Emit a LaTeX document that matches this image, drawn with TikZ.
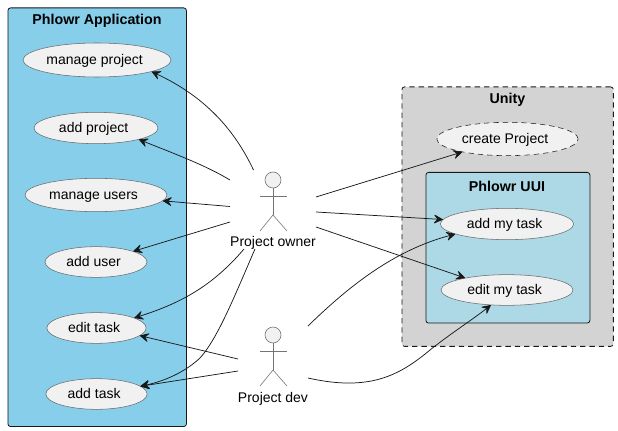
\documentclass[tikz,border=0pt]{standalone}
\usepackage{fontspec}
\setmainfont{Liberation Sans}
\usetikzlibrary{arrows.meta,shapes.geometric}
\definecolor{ink}{HTML}{181818}
\definecolor{ucfill}{HTML}{F1F1F1}
\definecolor{appblue}{HTML}{87CEEB}
\definecolor{uuiblue}{HTML}{ADD8E6}
\definecolor{unitygray}{HTML}{D3D3D3}
\newcommand{\uctext}[1]{\smash{\raisebox{-3.6pt}{#1}}\kern3.6pt}
\tikzset{
  pkg/.style={draw=ink,line width=0.6pt,rounded corners=2pt,anchor=north west,inner sep=0pt},
  pkgtitle/.style={font=\fontsize{10.7}{12}\selectfont\bfseries,text=black,inner sep=0pt},
  uc/.style={ellipse,draw=ink!65,line width=0.4pt,fill=ucfill,inner sep=0pt,font=\fontsize{10.5}{12}\selectfont,text=black},
  actorline/.style={draw=ink!60,line width=0.45pt},
  actorhead/.style={circle,draw=ink!60,line width=0.45pt,fill=ucfill,minimum size=12pt,inner sep=0pt},
  actorname/.style={font=\fontsize{10.5}{12}\selectfont,text=black,inner sep=0pt},
  rel/.style={draw=ink,line width=0.55pt,-{Stealth[length=7.5pt,width=7.5pt,inset=3pt,round]}},
  dashy/.style={dash pattern=on 4pt off 3pt}
}
\begin{document}
\begin{tikzpicture}[x=0.75pt,y=-0.75pt]
\useasboundingbox (0,0) rectangle (618,431);
% packages
\node[pkg,fill=appblue,minimum width=133.9pt,minimum height=314pt] (app) at (7.5,7.5) {};
\node[pkgtitle] (appT) at (97,20.5) {Phlowr Application};
\node[pkg,fill=unitygray,dashy,minimum width=158.6pt,minimum height=194.6pt] (unity) at (401.5,86.5) {};
\node[pkgtitle] (unityT) at (507.5,99.5) {Unity};
\node[pkg,fill=uuiblue,minimum width=123pt,minimum height=113pt] (uui) at (425.5,172) {};
\node[pkgtitle] (uuiT) at (507,186.5) {Phlowr UUI};
% use cases
\node[uc,minimum width=111pt,minimum height=25.5pt] (mp) at (97,60) {\uctext{manage project}};
\node[uc,minimum width=93pt,minimum height=23.5pt] (ap) at (96,128) {\uctext{add project}};
\node[uc,minimum width=106.5pt,minimum height=25pt] (mu) at (96,195) {\uctext{manage users}};
\node[uc,minimum width=76.5pt,minimum height=23pt] (au) at (96,262) {\uctext{add user}};
\node[uc,minimum width=74.5pt,minimum height=23pt] (et) at (96.5,328) {\uctext{edit task}};
\node[uc,minimum width=76pt,minimum height=23pt] (at) at (96.5,394) {\uctext{add task}};
\node[uc,dashy,draw=ink,minimum width=106pt,minimum height=25pt] (cp) at (507.5,139) {\uctext{create Project}};
\node[uc,minimum width=100pt,minimum height=23.5pt] (amt) at (507,224) {\uctext{add my task}};
\node[uc,minimum width=99pt,minimum height=23pt] (emt) at (507,290) {\uctext{edit my task}};
% actors
\node[actorhead] (ownerH) at (273,180) {};
\draw[actorline] (ownerH.south) -- (273,215) coordinate (ownerHip);
\draw[actorline] (260,196) -- (287,196);
\draw[actorline] (260,231) -- (ownerHip) -- (287,231);
\node[actorname] (owner) at (273,242.5) {Project owner};
\node[actorhead] (devH) at (273,335) {};
\draw[actorline] (devH.south) -- (273,370) coordinate (devHip);
\draw[actorline] (260,351) -- (287,351);
\draw[actorline] (260,386) -- (devHip) -- (287,386);
\node[actorname] (dev) at (273,398.5) {Project dev};
% connector start points
\coordinate (o1) at (253.5,170);
\coordinate (o2) at (230,180);
\coordinate (o3) at (230,206.5);
\coordinate (o4) at (230,222);
\coordinate (o5) at (244,249);
\coordinate (o6) at (255,249);
\coordinate (o7) at (316,197);
\coordinate (o8) at (316,212);
\coordinate (o9) at (316,227);
\coordinate (d1) at (238,359);
\coordinate (d2) at (238,371);
\coordinate (d3) at (308,326);
\coordinate (d4) at (308,378);
% connectors
\draw[rel] (o1) .. controls (230,120) and (195,92) .. (mp.-12.8);
\draw[rel] (o2) .. controls (205,165) and (175,154) .. (ap.-15.6);
\draw[rel] (o3) -- (mu.-5.1);
\draw[rel] (o4) -- (au.16.6);
\draw[rel] (o5) .. controls (215,283) and (185,302) .. (et.15.2);
\draw[rel] (o6) .. controls (235,295) and (218,338) .. (200,358) .. controls (185,372) and (165,381) .. (at.10.2);
\draw[rel] (d1) -- (et.-10.9);
\draw[rel] (d2) -- (at.10.2);
\draw[rel] (o7) -- (cp.196.3);
\draw[rel] (o8) -- (amt.176.4);
\draw[rel] (o9) -- (emt.164.7);
\draw[rel] (d3) .. controls (350,285) and (395,250) .. (amt.191);
\draw[rel] (d4) .. controls (370,392) and (400,375) .. (430,350) .. controls (450,334) and (472,320) .. (emt.223);
\end{tikzpicture}
\end{document}
